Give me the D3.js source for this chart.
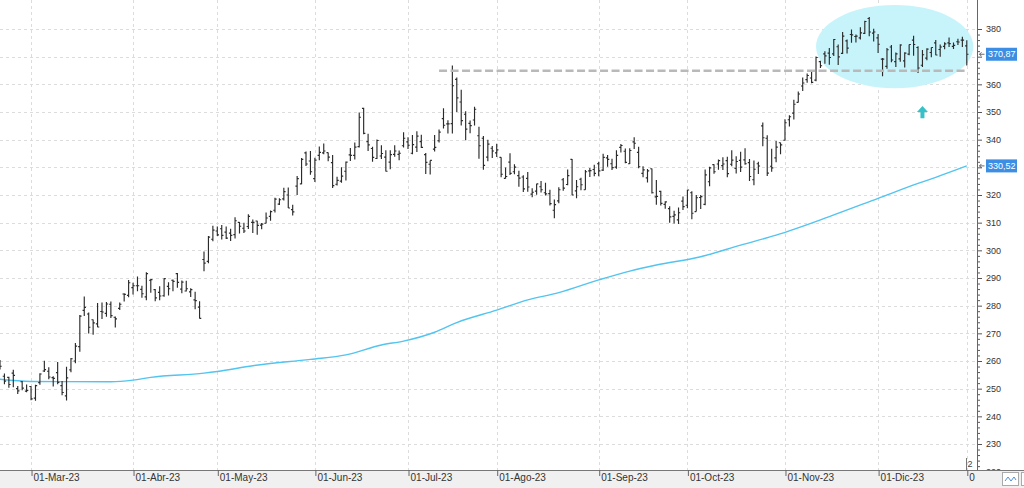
<!DOCTYPE html>
<html><head><meta charset="utf-8">
<script src="https://cdn.jsdelivr.net/npm/d3@7"></script>
<style>body{margin:0;background:#fff}svg{display:block}</style>
</head><body>
<svg id="c" width="1024" height="488"></svg>
<script>
// ---- data (MSFT daily OHLC) ----
const dates = ["2023-02-17","2023-02-21","2023-02-22","2023-02-23","2023-02-24","2023-02-27","2023-02-28",
"2023-03-01","2023-03-02","2023-03-03","2023-03-06","2023-03-07","2023-03-08","2023-03-09","2023-03-10","2023-03-13","2023-03-14","2023-03-15","2023-03-16","2023-03-17","2023-03-20","2023-03-21","2023-03-22","2023-03-23","2023-03-24","2023-03-27","2023-03-28","2023-03-29","2023-03-30","2023-03-31",
"2023-04-03","2023-04-04","2023-04-05","2023-04-06","2023-04-10","2023-04-11","2023-04-12","2023-04-13","2023-04-14","2023-04-17","2023-04-18","2023-04-19","2023-04-20","2023-04-21","2023-04-24","2023-04-25","2023-04-26","2023-04-27","2023-04-28",
"2023-05-01","2023-05-02","2023-05-03","2023-05-04","2023-05-05","2023-05-08","2023-05-09","2023-05-10","2023-05-11","2023-05-12","2023-05-15","2023-05-16","2023-05-17","2023-05-18","2023-05-19","2023-05-22","2023-05-23","2023-05-24","2023-05-25","2023-05-26","2023-05-30","2023-05-31",
"2023-06-01","2023-06-02","2023-06-05","2023-06-06","2023-06-07","2023-06-08","2023-06-09","2023-06-12","2023-06-13","2023-06-14","2023-06-15","2023-06-16","2023-06-20","2023-06-21","2023-06-22","2023-06-23","2023-06-26","2023-06-27","2023-06-28","2023-06-29","2023-06-30",
"2023-07-03","2023-07-05","2023-07-06","2023-07-07","2023-07-10","2023-07-11","2023-07-12","2023-07-13","2023-07-14","2023-07-17","2023-07-18","2023-07-19","2023-07-20","2023-07-21","2023-07-24","2023-07-25","2023-07-26","2023-07-27","2023-07-28","2023-07-31",
"2023-08-01","2023-08-02","2023-08-03","2023-08-04","2023-08-07","2023-08-08","2023-08-09","2023-08-10","2023-08-11","2023-08-14","2023-08-15","2023-08-16","2023-08-17","2023-08-18","2023-08-21","2023-08-22","2023-08-23","2023-08-24","2023-08-25","2023-08-28","2023-08-29","2023-08-30","2023-08-31",
"2023-09-01","2023-09-05","2023-09-06","2023-09-07","2023-09-08","2023-09-11","2023-09-12","2023-09-13","2023-09-14","2023-09-15","2023-09-18","2023-09-19","2023-09-20","2023-09-21","2023-09-22","2023-09-25","2023-09-26","2023-09-27","2023-09-28","2023-09-29",
"2023-10-02","2023-10-03","2023-10-04","2023-10-05","2023-10-06","2023-10-09","2023-10-10","2023-10-11","2023-10-12","2023-10-13","2023-10-16","2023-10-17","2023-10-18","2023-10-19","2023-10-20","2023-10-23","2023-10-24","2023-10-25","2023-10-26","2023-10-27","2023-10-30","2023-10-31",
"2023-11-01","2023-11-02","2023-11-03","2023-11-06","2023-11-07","2023-11-08","2023-11-09","2023-11-10","2023-11-13","2023-11-14","2023-11-15","2023-11-16","2023-11-17","2023-11-20","2023-11-21","2023-11-22","2023-11-24","2023-11-27","2023-11-28","2023-11-29","2023-11-30",
"2023-12-01","2023-12-04","2023-12-05","2023-12-06","2023-12-07","2023-12-08","2023-12-11","2023-12-12","2023-12-13","2023-12-14","2023-12-15","2023-12-18","2023-12-19","2023-12-20","2023-12-21","2023-12-22","2023-12-26","2023-12-27","2023-12-28","2023-12-29",
"2024-01-02"];

const open = [259.4,254.5,254.1,255.6,250.0,252.5,249.1,
250.8,246.6,252.2,256.4,256.3,254.0,255.8,251.1,247.4,256.8,260.0,265.2,278.3,277.0,274.9,273.4,277.9,277.2,280.5,275.8,279.0,284.2,283.7,
286.5,287.2,285.9,283.2,289.2,285.8,284.8,283.6,287.0,289.2,291.6,286.0,285.3,285.0,282.1,279.5,296.7,296.0,304.0,
307.0,307.8,306.6,306.2,305.7,310.1,308.0,308.6,310.1,310.6,309.1,309.8,312.3,314.5,316.7,318.6,320.0,314.7,323.2,324.0,335.2,332.3,
325.9,334.3,335.2,335.3,331.7,323.9,325.0,328.6,334.5,334.3,337.5,351.3,339.3,336.8,333.2,334.1,333.7,331.9,334.7,334.7,337.8,
339.2,335.1,337.3,339.3,334.6,331.1,336.6,339.6,347.6,345.7,345.8,361.8,353.6,349.2,345.9,347.1,341.4,340.5,333.7,336.9,
335.2,333.6,326.0,331.9,328.4,327.0,326.5,326.0,320.3,321.4,323.0,320.8,320.5,314.5,317.9,325.5,323.8,332.9,321.5,325.7,321.9,328.7,329.2,
331.3,329.0,333.4,331.3,330.1,337.2,335.8,331.3,339.2,335.4,327.8,326.2,329.5,319.3,321.3,316.6,315.1,312.3,311.0,317.8,
316.3,320.8,314.0,319.1,316.6,324.8,331.0,331.2,330.6,332.4,331.1,329.6,332.5,332.7,331.7,325.5,331.3,345.0,340.5,330.4,333.4,338.9,
339.8,347.2,349.6,353.5,359.4,361.7,362.3,361.5,368.2,371.0,371.3,371.0,373.6,371.2,375.7,378.0,377.3,376.8,378.4,383.8,378.5,
376.8,369.1,366.5,373.5,368.2,369.2,368.5,370.9,376.0,373.3,366.9,369.5,371.5,375.0,372.6,373.7,375.0,373.7,375.4,376.0,
373.9];

const high = [260.4,255.5,254.3,256.8,251.0,252.8,251.5,
250.9,251.4,255.6,260.1,257.7,254.5,259.6,252.8,257.9,261.1,266.5,276.6,283.3,277.5,275.0,281.0,281.1,281.3,281.5,276.1,281.1,284.5,289.3,
288.3,290.5,287.2,292.1,289.6,286.0,287.0,289.9,288.5,289.5,291.8,289.1,289.0,286.3,285.0,281.6,299.6,305.2,308.9,
308.6,309.2,308.6,307.8,312.0,310.2,310.0,313.0,311.1,310.7,309.9,313.7,314.4,319.0,318.8,322.6,322.7,316.5,326.9,333.4,335.7,335.9,
333.5,337.5,338.6,335.4,334.5,326.6,330.0,332.1,337.0,339.0,349.8,351.5,342.1,337.4,340.1,338.0,336.2,336.2,338.0,336.1,342.7,
340.9,341.7,343.0,341.8,335.2,332.5,341.7,343.7,351.4,347.0,366.8,362.5,358.0,350.3,346.9,351.9,344.7,341.3,340.0,337.7,
338.5,333.6,329.9,335.1,331.1,328.8,327.1,328.3,322.4,324.1,325.1,324.4,321.9,318.4,322.8,326.1,329.2,333.0,325.4,326.2,329.0,329.8,330.9,
332.0,334.9,334.5,333.1,336.2,338.4,336.8,336.9,340.9,337.4,330.4,329.4,329.6,325.4,321.5,317.7,315.9,314.3,315.5,319.5,
321.9,321.4,320.0,320.0,329.2,330.2,331.1,332.8,333.6,333.8,336.2,334.0,335.6,336.9,333.0,332.5,332.0,346.2,341.6,336.7,339.5,339.0,
347.4,348.8,354.4,357.4,362.5,363.9,364.8,370.1,368.5,372.0,373.1,376.4,374.4,378.9,376.2,379.8,378.0,380.6,383.0,384.3,380.1,
378.2,369.5,373.1,374.2,371.5,374.5,371.6,374.4,377.6,373.8,372.4,373.0,373.3,376.0,374.4,375.2,376.9,375.1,376.5,377.2,
375.9];

const low = [256.9,251.6,250.3,250.5,248.1,249.4,248.7,
245.8,245.6,251.4,256.0,253.4,250.8,251.6,247.6,245.7,255.9,259.2,263.3,276.3,269.9,269.5,272.2,275.2,276.0,275.5,272.1,278.4,281.5,283.0,
284.0,285.2,282.9,282.0,284.7,281.6,282.0,283.2,283.7,285.2,286.5,284.5,285.1,283.1,278.7,275.4,292.4,295.3,303.3,
305.2,303.9,304.1,303.4,304.3,306.1,306.3,307.7,306.3,305.6,307.6,309.8,310.7,313.7,316.4,318.0,315.3,312.6,320.0,323.9,330.5,327.3,
324.7,332.6,334.7,332.2,322.5,323.4,324.4,325.2,332.3,332.8,337.2,342.0,335.9,332.0,333.0,333.0,328.5,329.3,333.8,332.6,337.2,
336.6,334.7,335.5,337.0,327.6,327.4,335.7,339.0,344.0,342.2,342.2,350.0,345.1,339.8,342.3,345.1,333.1,329.1,332.2,333.4,
333.7,326.4,326.0,327.2,327.5,323.0,321.1,321.2,319.2,320.1,320.9,319.8,316.2,311.6,317.0,321.5,323.5,320.0,318.8,321.7,321.9,326.5,326.8,
326.8,328.7,330.2,329.0,329.5,335.4,331.5,331.2,336.6,329.7,326.4,324.5,320.5,316.5,316.2,315.0,310.0,309.7,309.5,314.6,
315.2,311.2,314.0,314.9,316.3,323.2,327.7,329.1,329.0,326.4,330.4,327.8,328.3,330.9,325.1,323.5,327.6,337.6,326.9,328.4,331.8,334.7,
339.7,344.8,347.3,353.4,357.6,360.6,360.4,361.1,365.9,367.4,367.1,370.2,367.0,371.0,371.1,375.0,375.1,376.2,378.2,377.4,375.5,
371.3,362.9,365.6,368.0,366.3,368.2,366.1,370.5,370.3,364.1,366.3,368.7,369.8,370.5,370.0,372.7,373.5,372.8,374.2,373.5,
366.8];

const close = [258.1,252.7,251.5,254.8,249.2,250.2,249.4,
246.3,251.1,255.3,256.9,254.2,253.7,252.3,248.6,253.9,260.8,265.4,276.2,279.4,272.2,273.8,272.3,277.7,280.6,276.4,275.2,280.5,284.1,288.3,
287.2,287.2,284.3,291.6,289.4,282.8,283.5,289.8,286.1,288.8,288.4,288.5,286.1,285.8,281.8,275.4,295.4,304.8,307.3,
305.6,305.4,304.4,305.4,310.7,308.7,307.0,312.3,310.1,309.0,309.5,311.7,314.0,318.5,318.3,321.2,315.3,313.9,325.9,332.9,331.2,328.4,
332.6,335.4,335.9,333.7,323.4,325.3,326.8,331.9,334.3,337.3,348.1,342.3,338.1,333.6,339.7,335.0,328.6,334.6,335.9,335.1,340.5,
338.0,338.2,341.3,337.2,331.8,332.5,337.2,342.7,345.2,345.7,359.5,355.1,346.9,343.8,345.1,351.0,337.8,330.7,338.4,335.9,
336.3,327.5,326.7,327.8,330.1,326.1,322.2,322.9,321.0,324.0,321.9,320.4,316.9,316.5,321.9,322.5,327.0,320.0,323.0,323.7,328.4,328.8,327.8,
328.7,333.6,332.9,329.9,334.3,337.9,331.8,336.1,338.7,330.2,329.1,328.7,320.8,319.5,317.0,317.5,312.1,312.8,313.6,315.8,
321.8,313.4,319.0,319.4,327.3,329.8,328.4,332.4,331.2,327.7,332.6,332.1,330.1,331.3,326.7,329.3,330.5,340.7,327.9,329.8,337.3,338.1,
346.1,348.3,352.8,356.5,360.5,363.2,360.7,369.7,366.7,370.3,369.7,376.2,369.9,377.4,373.1,377.9,377.4,378.6,382.7,378.9,378.9,
374.5,369.1,372.5,368.8,371.0,374.2,371.3,374.4,374.4,365.9,370.7,372.7,373.3,370.6,373.5,374.6,374.7,374.1,375.3,376.0,
370.87];

// 200-session moving average, read at sample dates
const smaDates = ["2023-02-17","2023-03-01","2023-03-27","2023-04-03","2023-04-10","2023-04-26","2023-05-01","2023-05-11","2023-05-31","2023-06-12","2023-06-23","2023-06-30","2023-07-12","2023-07-19","2023-08-01","2023-08-10","2023-08-21","2023-09-01","2023-09-13","2023-09-21","2023-10-05","2023-10-18","2023-10-30","2023-11-15","2023-12-01","2023-12-14","2023-12-20","2024-01-02"];
const smaValues = [253.4,252.6,252.5,253.1,254.1,255.6,256.2,258.3,260.6,262.2,265.8,267.2,270.4,273.9,278.4,282.1,284.7,289.3,292.5,294.7,297.7,301.9,305.5,312.2,318.8,324.2,326.4,330.52];

const monthTickDates = ["2023-03-01","2023-04-03","2023-05-01","2023-06-01","2023-07-03","2023-08-01","2023-09-01","2023-10-02","2023-11-01","2023-12-01","2024-01-02"];
const monthTickLabels = ["01-Mar-23","01-Abr-23","01-May-23","01-Jun-23","01-Jul-23","01-Ago-23","01-Sep-23","01-Oct-23","01-Nov-23","01-Dic-23","0"];
const priceTicks = [220,230,240,250,260,270,280,290,300,310,320,330,340,350,360,370,380];
const lastValues = [370.87, 330.52];
const lastValueLabels = ["370,87","330,52"];

// annotations
const resistancePrice = 364.9;
const resistanceDates = ["2023-07-13","2024-01-02"];
const ellipseDates = ["2023-11-10","2024-01-02"];
const ellipsePrices = [358.6, 388.7];
const arrowDate = "2023-12-15";
const arrowPrices = [347.7, 352.2];

// ---- drawing ----
const svg = d3.select("#c");
const plotR = 977, plotB = 470;
const FONT = "Liberation Sans, Arial, sans-serif";
const x = d3.scalePoint().domain(dates).range([0, 966.8]);
const y = d3.scaleLinear().domain([230, 380]).range([444, 29]);

svg.append("rect").attr("width",1024).attr("height",488).attr("fill","#fff");
const defs = svg.append("defs");
defs.append("clipPath").attr("id","plot").append("rect").attr("x",0).attr("y",0).attr("width",plotR).attr("height",plotB);
defs.append("clipPath").attr("id","ylab").append("rect").attr("x",0).attr("y",0).attr("width",60).attr("height",plotB);

const g = svg.append("g").attr("clip-path","url(#plot)");

// grid
g.append("g").selectAll("line").data(priceTicks.filter(v=>v>=230)).join("line")
  .attr("x1",0).attr("x2",plotR).attr("y1",d=>Math.round(y(d))+0.5).attr("y2",d=>Math.round(y(d))+0.5)
  .attr("stroke","#dcdcdc").attr("stroke-dasharray","3,3");
g.append("g").selectAll("line").data(monthTickDates).join("line")
  .attr("y1",0).attr("y2",plotB).attr("x1",d=>Math.round(x(d))+0.5).attr("x2",d=>Math.round(x(d))+0.5)
  .attr("stroke","#dcdcdc").attr("stroke-dasharray","3,3");

// ellipse highlight
const ex0 = x(ellipseDates[0]), ex1 = x(ellipseDates[1]) + 6.5;
const ey0 = y(ellipsePrices[1]), ey1 = y(ellipsePrices[0]);
g.append("ellipse").attr("cx",(ex0+ex1)/2).attr("cy",(ey0+ey1)/2).attr("rx",(ex1-ex0)/2).attr("ry",(ey1-ey0)/2)
  .attr("fill","#c6f4fa");

// moving average
const sma = smaDates.map((d,i)=>({d, v:smaValues[i]}));
g.append("path").datum(sma)
  .attr("d", d3.line().x(p=>x(p.d)).y(p=>y(p.v)).curve(d3.curveMonotoneX))
  .attr("fill","none").attr("stroke","#52c4f0").attr("stroke-width",1.4);

// OHLC bars
const bars = dates.map((d,i)=>({d,o:open[i],h:high[i],l:low[i],c:close[i]}));
g.append("g").selectAll("path").data(bars).join("path")
  .attr("d", b=>{const cx=x(b.d);return `M${cx},${y(b.h)}V${y(b.l)}M${cx-1.7},${y(b.o)}H${cx}M${cx},${y(b.c)}H${cx+1.7}`;})
  .attr("fill","none").attr("stroke","#2b2b2b").attr("stroke-width",1.15);

// resistance dashed line
g.append("line").attr("x1",x(resistanceDates[0])).attr("x2",x(resistanceDates[1]))
  .attr("y1",y(resistancePrice)).attr("y2",y(resistancePrice))
  .attr("stroke","#b9b9b9").attr("stroke-width",2.6).attr("stroke-dasharray","8,3.5");

// arrow
const ax = x(arrowDate), aTop = y(arrowPrices[1]), aBot = y(arrowPrices[0]);
g.append("path").attr("d",`M${ax},${aTop}L${ax+5.5},${aTop+6}L${ax+2},${aTop+6}L${ax+2},${aBot}L${ax-2},${aBot}L${ax-2},${aTop+6}L${ax-5.5},${aTop+6}Z`)
  .attr("fill","#35c1c8");

// bottom strip
svg.append("rect").attr("x",0).attr("y",plotB).attr("width",1024).attr("height",488-plotB).attr("fill","#f0f0f0");

// right axis (labels hidden under the value boxes are not drawn)
const yAxisG = svg.append("g").attr("transform",`translate(${plotR},0)`);
const minor = d3.range(222,381,2).filter(v=>v%10!==0);
yAxisG.append("g").call(d3.axisRight(y).tickValues(minor).tickSize(3).tickFormat(""))
  .call(s=>s.select(".domain").remove()).selectAll("line").attr("stroke","#555");
const hidden = [370, 330];
yAxisG.append("g").attr("clip-path","url(#ylab)")
  .call(d3.axisRight(y).tickValues(priceTicks).tickSize(5).tickPadding(4).tickFormat(d=>hidden.includes(d)?"":d3.format("d")(d)))
  .call(s=>s.select(".domain").remove())
  .call(s=>s.selectAll("line").attr("stroke","#555"))
  .call(s=>s.selectAll("text").attr("fill","#333").attr("font-family",FONT).attr("font-size","9px"));
svg.append("line").attr("x1",plotR+0.5).attr("x2",plotR+0.5).attr("y1",0).attr("y2",plotB).attr("stroke","#666");

// last value labels
lastValues.forEach((v,i)=>{
  const yy = y(v);
  svg.append("rect").attr("x",986).attr("y",yy-6.5).attr("width",31).attr("height",13).attr("fill","#3c8ee4");
  svg.append("text").attr("x",988).attr("y",yy+3.2).text(lastValueLabels[i])
    .attr("fill","#fff").attr("font-family",FONT).attr("font-size","9px");
  svg.append("path").attr("d",`M984.5,${yy}H979.5M981.5,${yy-2}L979.5,${yy}L981.5,${yy+2}`)
    .attr("fill","none").attr("stroke","#444").attr("stroke-width",0.8);
});

// bottom axis
svg.append("line").attr("x1",0).attr("x2",1024).attr("y1",plotB+0.5).attr("y2",plotB+0.5).attr("stroke","#777");
const xAxisG = svg.append("g").attr("transform",`translate(0,${plotB})`);
xAxisG.call(d3.axisBottom(x).tickValues(monthTickDates).tickSize(6).tickFormat((d,i)=>monthTickLabels[i]))
  .call(s=>s.select(".domain").remove())
  .call(s=>s.selectAll("line").attr("stroke","#666").attr("transform","translate(0.5,0)"))
  .call(s=>s.selectAll("text").attr("text-anchor","start").attr("x",2).attr("y",4).attr("dy","0.71em")
      .attr("fill","#333").attr("font-family",FONT).attr("font-size","10px"));

// small marker near last bar
svg.append("line").attr("x1",966.5).attr("x2",966.5).attr("y1",458).attr("y2",470).attr("stroke","#777");
svg.append("text").attr("x",967.5).attr("y",467).text("2").attr("fill","#444")
  .attr("font-family",FONT).attr("font-size","9px");

// corner buttons
svg.append("rect").attr("x",1002.5).attr("y",472.5).attr("width",16).attr("height",13).attr("fill","#fff").attr("stroke","#aaa");
svg.append("path").attr("d","M1005,481 L1008,477 L1011,481 L1014,477 L1016,480").attr("fill","none").attr("stroke","#4a90d9").attr("stroke-width",1);
svg.append("rect").attr("x",1021.5).attr("y",472.5).attr("width",10).attr("height",13).attr("fill","#fff").attr("stroke","#aaa");
</script>
</body></html>
